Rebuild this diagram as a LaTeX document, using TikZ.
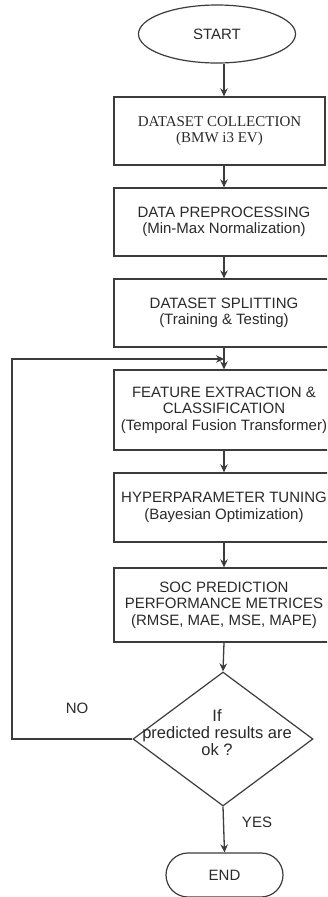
\documentclass[tikz,border=0pt]{standalone}
\usepackage{fontspec}
\setmainfont{Liberation Sans}
\newfontfamily\serifface{Liberation Serif}
\usetikzlibrary{shapes.geometric,arrows.meta}
\definecolor{edge}{HTML}{3C3C3C}
\definecolor{ink}{HTML}{2A2A2A}
\begin{document}
\begin{tikzpicture}[x=1pt,y=-1pt,
  every node/.style={text=ink,font=\fontsize{15}{16.5}\selectfont},
  box/.style={draw=edge,line width=1.3pt,rectangle,minimum width=220pt,
    inner sep=0pt,align=center},
  term/.style={draw=edge,line width=1.2pt,inner sep=0pt,align=center},
  arr/.style={draw=edge,line width=1.3pt,-{Stealth[length=8pt,width=7.5pt]}},
  lbl/.style={inner sep=0pt}]
\useasboundingbox (0,0) rectangle (327,897);
\clip (0,0) rectangle (327,897);
\fill[white] (0,0) rectangle (327,897);

% terminals
\node[term,ellipse,minimum width=157pt,minimum height=58pt] (start) at (217,34) {START};
\node[term,rounded corners=22pt,minimum width=117pt,minimum height=44pt] (end) at (224.5,875) {END};

% process boxes
\node[box,minimum width=211pt,minimum height=68pt,
  font=\serifface\fontsize{15}{16.5}\selectfont] (b1) at (219.5,131)
  {DATASET COLLECTION\\(BMW i3 EV)};
\node[box,minimum height=68pt] (b2) at (224,222)
  {DATA PREPROCESSING\\(Min-Max Normalization)};
\node[box,minimum height=68pt] (b3) at (224,313)
  {DATASET SPLITTING\\(Training \& Testing)};
\node[box,minimum height=80pt] (b4) at (224,410)
  {FEATURE EXTRACTION \&\\CLASSIFICATION\\(Temporal Fusion Transformer)};
\node[box,minimum height=69pt] (b5) at (224,507.5)
  {HYPERPARAMETER TUNING\\(Bayesian Optimization)};
\node[box,minimum height=74pt] (b6) at (224,605)
  {SOC PREDICTION\\PERFORMANCE METRICES\\(RMSE, MAE, MSE, MAPE)};

% decision: the outline and its question
\node[draw=edge,line width=1.2pt,diamond,minimum width=180pt,minimum height=134pt,
  inner sep=0pt] (dec) at (223,739) {};
\node[align=center,inner sep=0pt,font=\fontsize{16.5}{17}\selectfont]
  (dectext) at ([shift={(-6,-6)}]dec.center)
  {If\\predicted results are\\ok ?};

% loop-back corners
\coordinate (lowcorner) at (12,739);
\coordinate (upcorner) at (12,359);
\coordinate (merge) at (224,359);

% connectors
\draw[arr] (start.south -| b2) -- (b1.north -| b2);
\draw[arr] (b1.south -| b2) -- (b2.north);
\draw[arr] (b2.south) -- (b3.north);
\draw[arr] (b3.south) -- (b4.north);
\draw[arr] (b4.south) -- (b5.north);
\draw[arr] (b5.south) -- (b6.north);
\draw[arr] (b6.south) -- (dec.north);
\draw[arr] (dec.south) -- (end.north);
\draw[arr] (dec.west) -- (lowcorner) -- (upcorner) -- (merge);

% branch labels
\node[lbl] (no) at (77,708) {NO};
\node[lbl] (yes) at (257,822) {YES};
\end{tikzpicture}
\end{document}
